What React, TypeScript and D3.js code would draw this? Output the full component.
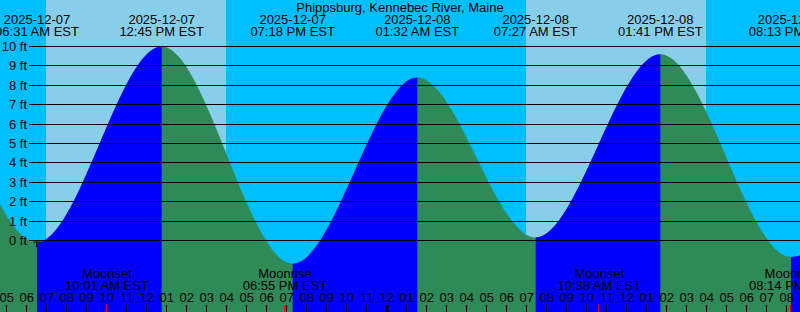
import React from "react";
import * as d3 from "d3";

const title = "Phippsburg, Kennebec River, Maine";
const startTime = "2025-12-07T04:40";
const endTime = "2025-12-08T20:40";

// tide extrema (EST wall clock), first and last are off-chart guards
const tideTimes = [
  "2025-12-06T18:05",
  "2025-12-07T00:20",
  "2025-12-07T06:31",
  "2025-12-07T12:45",
  "2025-12-07T19:18",
  "2025-12-08T01:32",
  "2025-12-08T07:27",
  "2025-12-08T13:41",
  "2025-12-08T20:13",
  "2025-12-09T02:25",
];
const tideHeights = [-0.6, 9.0, -0.1, 10.0, -1.2, 8.4, 0.15, 9.6, -0.85, 8.6];

const sunriseTimes = ["2025-12-07T06:58", "2025-12-08T06:58"];
const sunsetTimes = ["2025-12-07T15:58", "2025-12-08T15:58"];

const moonTimes = ["2025-12-07T10:01", "2025-12-07T18:55", "2025-12-08T10:38", "2025-12-08T20:14"];
const moonEvents = ["Moonset", "Moonrise", "Moonset", "Moonrise"];

const feetTicks = [0, 1, 2, 3, 4, 5, 6, 7, 8, 9, 10];

const W = 800;
const H = 312;
const FONT = "'Liberation Sans', Arial, sans-serif";

const parse = d3.utcParse("%Y-%m-%dT%H:%M");
const fmtDate = d3.utcFormat("%Y-%m-%d");
const fmtTime = d3.utcFormat("%I:%M %p EST");
const fmtHour = d3.utcFormat("%I");

export default function App() {
  const t0 = parse(startTime)!;
  const t1 = parse(endTime)!;
  const x = d3.scaleUtc().domain([t0, t1]).range([0, W]);
  const y = d3.scaleLinear().domain([0, 10]).range([240.5, 46.5]);

  const tides = tideTimes.map((s, i) => ({ t: parse(s)!, h: tideHeights[i] }));
  const area = d3
    .area<{ t: Date; h: number }>()
    .x((d) => x(d.t))
    .y0(H)
    .y1((d) => y(d.h))
    .curve(d3.curveMonotoneX);
  const areaPath = area(tides) || "";

  const rising = tides
    .slice(0, -1)
    .map((d, i) => ({ a: d, b: tides[i + 1] }))
    .filter((s) => s.b.h > s.a.h);

  const labeled = tides.filter((d) => d.t >= t0 && d.t <= t1);
  const hours = d3.utcHour.range(t0, t1);
  const moons = moonTimes.map((s, i) => ({ t: parse(s)!, name: moonEvents[i] }));

  return (
    <svg
      width={W}
      height={H}
      style={{ position: "absolute", left: 0, top: 0, display: "block" }}
      fontFamily={FONT}
      fontSize={13}
    >
      <defs>
        <clipPath id="rise">
          {rising.map((s, i) => (
            <rect key={i} x={x(s.a.t)} y={0} width={x(s.b.t) - x(s.a.t)} height={H} />
          ))}
        </clipPath>
      </defs>
      <rect x={0} y={0} width={W} height={H} fill="#00bfff" />
      {sunriseTimes.map((s, i) => {
        const a = x(parse(s)!);
        const b = x(parse(sunsetTimes[i])!);
        return <rect key={i} x={a} y={0} width={b - a} height={H} fill="#87ceeb" />;
      })}
      <path d={areaPath} fill="#2e8b57" />
      <path d={areaPath} fill="#0000ff" clipPath="url(#rise)" />
      {feetTicks.map((v) => {
        const yy = Math.floor(y(v)) + 0.5;
        return (
          <g key={v}>
            <line x1={29} x2={W} y1={yy} y2={yy} stroke="#000" strokeWidth={1} />
            <text x={27} y={yy + 4} textAnchor="end" fill="#000">
              {v} ft
            </text>
          </g>
        );
      })}
      <path
        d={`M${x(tides[2].t) - 4},${Math.floor(y(0)) + 2}h8M${Math.round(x(tides[2].t)) - 0.5},${Math.floor(y(0))}v7`}
        stroke="#000"
        strokeWidth={1}
        fill="none"
      />
      <text x={400} y={12} textAnchor="middle" fill="#000">
        {title}
      </text>
      {labeled.map((d, i) => (
        <g key={i}>
          <text x={x(d.t)} y={24} textAnchor="middle" fill="#000">
            {fmtDate(d.t)}
          </text>
          <text x={x(d.t)} y={36} textAnchor="middle" fill="#000">
            {fmtTime(d.t)}
          </text>
        </g>
      ))}
      {hours.map((h, i) => {
        const xx = Math.round(x(h)) - 0.5;
        const midnight = h.getUTCHours() === 0;
        return (
          <g key={i}>
            <line
              x1={midnight ? xx + 0.5 : xx}
              x2={midnight ? xx + 0.5 : xx}
              y1={305}
              y2={H}
              stroke="#000"
              strokeWidth={midnight ? 3 : 1}
            />
            <text x={x(h)} y={302} textAnchor="middle" fill="#000">
              {fmtHour(h)}
            </text>
          </g>
        );
      })}
      {moons.map((m, i) => {
        const xx = Math.round(x(m.t)) - 0.5;
        return (
          <g key={i}>
            <line x1={xx} x2={xx} y1={305} y2={H} stroke="#ff0000" strokeWidth={1} />
            <text x={x(m.t)} y={278} textAnchor="middle" fill="#000">
              {m.name}
            </text>
            <text x={x(m.t)} y={290} textAnchor="middle" fill="#000">
              {fmtTime(m.t)}
            </text>
          </g>
        );
      })}
    </svg>
  );
}
